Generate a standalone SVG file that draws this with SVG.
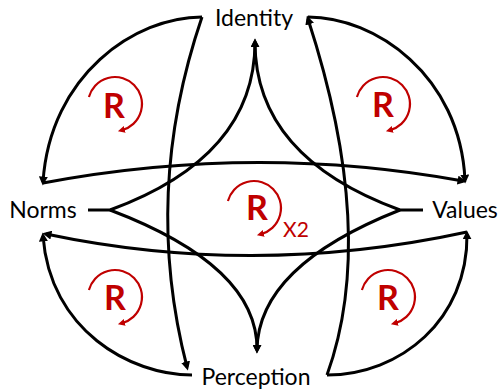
<svg xmlns="http://www.w3.org/2000/svg" xmlns:xlink="http://www.w3.org/1999/xlink" width="500" height="390" viewBox="0 0 500 390">
  <style>
    .lbl { font-family: Lato, "Liberation Sans", sans-serif; font-size: 23px; fill: #000; text-anchor: middle; }
    .ln { fill: none; stroke: #000; stroke-width: 3; stroke-linejoin: miter; }
    .arr { marker-end: url(#ah); }
    .rl { fill: none; stroke: #C00000; stroke-width: 2.2; marker-end: url(#rah); }
    .rt { font-family: Lato, "Liberation Sans", sans-serif; font-weight: bold; font-size: 34px; fill: #C00000; text-anchor: middle; }
    .x2 { font-family: Lato, "Liberation Sans", sans-serif; font-size: 21px; fill: #C00000; }
  </style>
  <defs>
    <marker id="ah" viewBox="0 0 10 10" refX="6" refY="5" markerWidth="9" markerHeight="9" markerUnits="userSpaceOnUse" orient="auto">
      <path d="M0,0 L10,5 L0,10 z" fill="#000"/>
    </marker>
    <marker id="rah" viewBox="0 0 10 10" refX="4" refY="5" markerWidth="7" markerHeight="7" markerUnits="userSpaceOnUse" orient="auto">
      <path d="M0,0 L10,5 L0,10 z" fill="#C00000"/>
    </marker>
    <path id="loopArc" class="rl" d="M-26.1,-7 A27,27 0 1 1 7,26.1"/>
  </defs>

  <g id="connectors">
    <!-- outer arcs -->
    <path class="ln arr" d="M202,17 C135,17 50,75 43,182"/>
    <path class="ln arr" d="M308,17 C375,17 460,75 465,180"/>
    <path class="ln arr" d="M192,375 C130,375 50,330 43,236"/>
    <path class="ln arr" d="M327,375 C400,375 468,320 467,234"/>
    <!-- verticals -->
    <path class="ln arr" d="M202,17 Q142,193 187,367"/>
    <path class="ln arr" d="M327,375 Q378,234 308,19"/>
    <!-- horizontals -->
    <path class="ln arr" d="M43,183 Q255,143 463,181"/>
    <path class="ln arr" d="M467,232 Q255,278 46,234"/>
    <!-- star curves -->
    <path class="ln arr" d="M88,210 L110,210 Q255,157 255,42"/>
    <path class="ln arr" d="M423,210 L400,210 Q255,157 255,42"/>
    <path class="ln arr" d="M110,210 Q258,266 257,350"/>
    <path class="ln arr" d="M400,210 Q258,266 257,350"/>
  </g>

  <g id="identity"><text class="lbl" x="254" y="26">Identity</text></g>
  <g id="norms"><text class="lbl" x="43" y="218">Norms</text></g>
  <g id="values"><text class="lbl" x="465" y="218">Values</text></g>
  <g id="perception"><text class="lbl" x="256" y="385">Perception</text></g>

  <g id="loop-tl" transform="translate(115,104)"><use xlink:href="#loopArc"/><text class="rt" x="-1" y="14">R</text></g>
  <g id="loop-tr" transform="translate(383,104)"><use xlink:href="#loopArc"/><text class="rt" x="0" y="13">R</text></g>
  <g id="loop-bl" transform="translate(115,297)"><use xlink:href="#loopArc"/><text class="rt" x="0" y="13">R</text></g>
  <g id="loop-br" transform="translate(388,297)"><use xlink:href="#loopArc"/><text class="rt" x="0" y="13">R</text></g>
  <g id="loop-c" transform="translate(254,208)"><use xlink:href="#loopArc"/><text class="rt" x="3" y="12">R</text><text class="x2" x="29" y="29">X2</text></g>
</svg>
